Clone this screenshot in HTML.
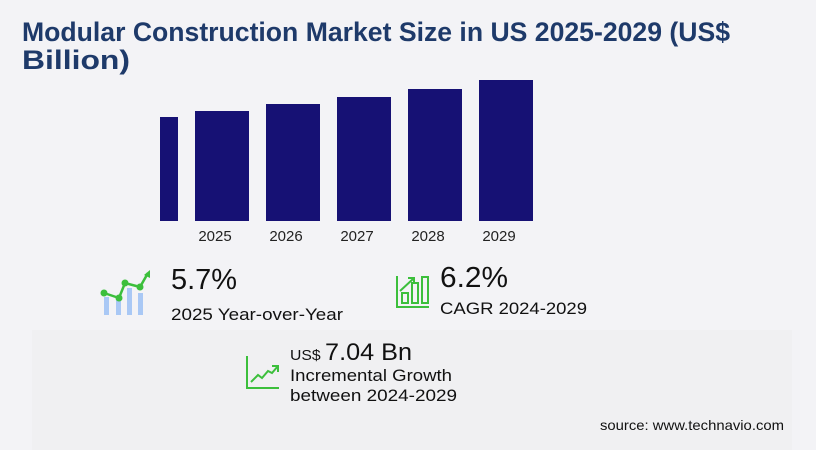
<!DOCTYPE html>
<html><head><meta charset="utf-8"><style>
html,body{margin:0;padding:0;background:#f3f3f6;}
svg{display:block;font-family:"Liberation Sans",sans-serif;}
</style></head><body>
<svg width="816" height="450" viewBox="0 0 816 450" xmlns="http://www.w3.org/2000/svg">
<rect width="816" height="450" fill="#f3f3f6"/>
<rect x="32" y="330" width="760" height="120" fill="#f0f0f2"/>
<text x="22" y="41" font-size="27" font-weight="bold" fill="#1e3a6a" textLength="708" lengthAdjust="spacingAndGlyphs">Modular Construction Market Size in US 2025-2029 (US$</text>
<text x="22" y="69" font-size="27" font-weight="bold" fill="#1e3a6a" textLength="108" lengthAdjust="spacingAndGlyphs">Billion)</text>
<g fill="#161174">
<rect x="160" y="117" width="18" height="104"/>
<rect x="195" y="111" width="54" height="110"/>
<rect x="266" y="104" width="54" height="117"/>
<rect x="337" y="97" width="54" height="124"/>
<rect x="408" y="89" width="54" height="132"/>
<rect x="479" y="80" width="54" height="141"/>
</g>
<g font-size="15" fill="#222" text-anchor="middle">
<text x="215" y="241">2025</text><text x="286" y="241">2026</text><text x="357" y="241">2027</text><text x="428" y="241">2028</text><text x="499" y="241">2029</text>
</g>
<g fill="#a9c8f5">
<rect x="104" y="297" width="5" height="18"/><rect x="116" y="300" width="5" height="15"/><rect x="127" y="288" width="5" height="27"/><rect x="138" y="293" width="5" height="22"/>
</g>
<polyline points="104,293 119,298 125,283 140,287 148,273" fill="none" stroke="#3cbf3c" stroke-width="2.5"/>
<g fill="#3cbf3c"><circle cx="104" cy="293" r="3.5"/><circle cx="119" cy="298" r="3.5"/><circle cx="125" cy="283" r="3.5"/><circle cx="140" cy="287" r="3.5"/><polygon points="144,275 150,270 150,278"/></g>
<text x="171" y="289" font-size="29" fill="#111" textLength="66" lengthAdjust="spacingAndGlyphs">5.7%</text>
<text x="171" y="320" font-size="17" fill="#111" textLength="172" lengthAdjust="spacingAndGlyphs">2025 Year-over-Year</text>
<g fill="none" stroke="#3cbf3c" stroke-width="2">
<polyline points="397,276 397,307 429,307"/>
<rect x="402" y="293" width="6" height="10"/><rect x="412" y="283" width="6" height="20"/><rect x="422" y="277" width="6" height="26"/>
<polyline points="400,291 413,279"/><polyline points="408,278 414,278 414,284"/>
</g>
<text x="440" y="287" font-size="29" fill="#111" textLength="68" lengthAdjust="spacingAndGlyphs">6.2%</text>
<text x="440" y="314" font-size="17" fill="#111" textLength="147" lengthAdjust="spacingAndGlyphs">CAGR  2024-2029</text>
<g fill="none" stroke="#3cbf3c" stroke-width="2">
<polyline points="247,356 247,388 279,388"/>
<polyline points="251,382 258,375 262,378 268,371 272,373 278,366"/>
<polyline points="272,366 278,366 278,372"/>
</g>
<text x="290" y="360" font-size="15" fill="#111" textLength="122" lengthAdjust="spacingAndGlyphs">US$ <tspan font-size="24">7.04 Bn</tspan></text>
<text x="290" y="381" font-size="17" fill="#111" textLength="162" lengthAdjust="spacingAndGlyphs">Incremental Growth</text>
<text x="290" y="401" font-size="17" fill="#111" textLength="167" lengthAdjust="spacingAndGlyphs">between 2024-2029</text>
<text x="784" y="430" font-size="14" fill="#111" text-anchor="end" textLength="184" lengthAdjust="spacingAndGlyphs">source: www.technavio.com</text>
</svg>
</body></html>
